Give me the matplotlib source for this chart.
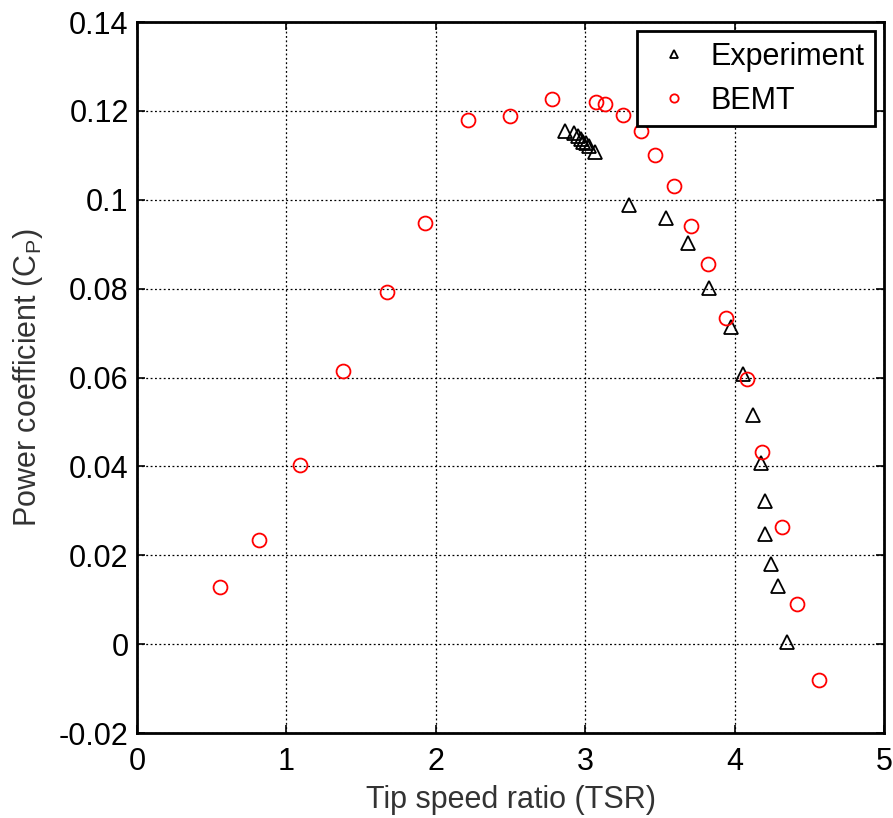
import matplotlib
matplotlib.use("Agg")
import matplotlib.pyplot as plt

# Experiment (triangles)
exp_tsr = [2.865, 2.925, 2.95, 2.97, 2.985, 3.005, 3.025, 3.065, 3.29, 3.54,
           3.69, 3.83, 3.976, 4.056, 4.12, 4.175, 4.20, 4.20, 4.24, 4.29, 4.35]
exp_cp = [0.1154, 0.1150, 0.1143, 0.1136, 0.1131, 0.1127, 0.1122, 0.1108, 0.0988, 0.0958,
          0.0902, 0.0801, 0.0713, 0.0607, 0.0515, 0.0407, 0.0322, 0.0247, 0.0180, 0.0130, 0.0005]

# BEMT (circles)
bemt_tsr = [0.556, 0.817, 1.09, 1.379, 1.673, 1.928, 2.215, 2.497, 2.778, 3.07,
            3.13, 3.25, 3.37, 3.47, 3.594, 3.71, 3.82, 3.94, 4.08, 4.18,
            4.32, 4.42, 4.565]
bemt_cp = [0.0128, 0.0234, 0.0403, 0.0614, 0.0792, 0.0947, 0.1180, 0.1188, 0.1226, 0.1220,
           0.1215, 0.1190, 0.1154, 0.1100, 0.1030, 0.0940, 0.0855, 0.0733, 0.0596, 0.0432,
           0.0263, 0.0090, -0.0081]

plt.rcParams['font.family'] = ['Liberation Sans', 'DejaVu Sans']
plt.rcParams['mathtext.fontset'] = 'custom'
plt.rcParams['mathtext.rm'] = 'Liberation Sans'
plt.rcParams['mathtext.it'] = 'Liberation Sans'

fig = plt.figure(figsize=(8.93, 8.18), dpi=100)
ax = fig.add_axes([0.1534, 0.1039, 0.8366, 0.8691])

ax.plot(exp_tsr, exp_cp, linestyle='none', marker='^', markersize=10,
        markerfacecolor='none', markeredgecolor='black', markeredgewidth=1.3,
        label='Experiment')
ax.plot(bemt_tsr, bemt_cp, linestyle='none', marker='o', markersize=10,
        markerfacecolor='none', markeredgecolor='red', markeredgewidth=1.3,
        label='BEMT')

ax.set_xlim(0, 5)
ax.set_ylim(-0.02, 0.14)
ax.set_xticks([0, 1, 2, 3, 4, 5])
ax.set_yticks([-0.02, 0, 0.02, 0.04, 0.06, 0.08, 0.1, 0.12, 0.14])
ax.set_yticklabels(['-0.02', '0', '0.02', '0.04', '0.06', '0.08', '0.1', '0.12', '0.14'])

ax.grid(True, color='black', linestyle=(0, (1.5, 2)), linewidth=0.9)
ax.tick_params(direction='in', top=True, right=True, length=6, width=1.2,
               labelsize=22)
ax.tick_params(axis='y', pad=6)
ax.tick_params(axis='x', pad=10)
for s in ax.spines.values():
    s.set_linewidth(2)

ax.set_xlabel('Tip speed ratio (TSR)', fontsize=22, color='#333333', labelpad=6)
ax.set_ylabel('Power coefficient (C$_{\\mathrm{P}}$)', fontsize=22, color='#333333', labelpad=10)

leg = ax.legend(loc='upper right', fontsize=22, markerscale=0.6, fancybox=False,
                framealpha=1, edgecolor='black', borderpad=0.35, handlelength=1.7,
                handletextpad=0.35, labelspacing=0.45, borderaxespad=0.3)
leg.get_frame().set_linewidth(2)

fig.savefig('out.png', dpi=100)
